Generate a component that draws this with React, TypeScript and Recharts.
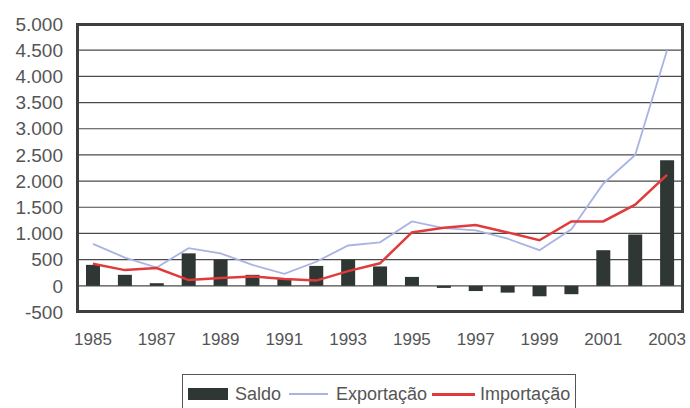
import React from 'react';
import { ComposedChart, Bar, Line, XAxis, YAxis, CartesianGrid } from 'recharts';

const years = ['1985', '1986', '1987', '1988', '1989', '1990', '1991', '1992', '1993', '1994',
  '1995', '1996', '1997', '1998', '1999', '2000', '2001', '2002', '2003'];
const saldo = [400, 210, 50, 620, 500, 210, 130, 380, 500, 370, 170, -40, -100, -130, -200, -160, 680, 980, 2400];
const exportacao = [800, 540, 350, 720, 620, 400, 230, 460, 770, 830, 1230, 1100, 1060, 900, 680, 1080, 1950, 2500, 4500];
const importacao = [420, 300, 340, 110, 150, 180, 130, 100, 280, 430, 1020, 1110, 1160, 1020, 870, 1230, 1230, 1550, 2120];
const yTicks = [-500, 0, 500, 1000, 1500, 2000, 2500, 3000, 3500, 4000, 4500, 5000];

const data = years.map((ano, i) => ({
  ano,
  saldo: saldo[i],
  exportacao: exportacao[i],
  importacao: importacao[i],
}));

const fmt = (v: number) => v.toLocaleString('de-DE');

const textColor = '#555';
const border = 'rgb(60, 62, 64)';
const font = '"Liberation Sans", Arial, sans-serif';

const App: React.FC = () => {
  return (
    <div style={{ position: 'absolute', left: 0, top: 0, width: 690, height: 408, background: '#fff', fontFamily: font }}>
      <ComposedChart width={690} height={408} data={data} margin={{ top: 24, right: 7, bottom: 56, left: 0 }}>
        <CartesianGrid vertical={false} stroke="#4a4a4a" strokeWidth={1.2} />
        <XAxis
          dataKey="ano"
          interval={1}
          tickSize={0}
          tickMargin={21}
          axisLine={false}
          tick={{ fill: textColor, fontSize: 17, fontFamily: font }}
          height={40}
        />
        <YAxis
          domain={[-500, 5000]}
          ticks={yTicks}
          interval={0}
          tickFormatter={fmt}
          width={77}
          tickSize={0}
          tickMargin={14}
          axisLine={false}
          tick={{ fill: textColor, fontSize: 19, fontFamily: font }}
        />
        <Bar dataKey="saldo" name="Saldo" fill="#2e3733" barSize={14} isAnimationActive={false} />
        <Line type="linear" dataKey="exportacao" name="Exportação" stroke="#a9b3e4" strokeWidth={1.8} dot={false} isAnimationActive={false} />
        <Line type="linear" dataKey="importacao" name="Importação" stroke="#e03a3c" strokeWidth={2.5} dot={false} isAnimationActive={false} />
      </ComposedChart>

      {/* moldura da área do gráfico */}
      <div style={{
        position: 'absolute', left: 76, top: 23, width: 608, height: 290, zIndex: 5,
        borderWidth: 3, borderStyle: 'solid', borderColor: border,
        boxSizing: 'border-box', pointerEvents: 'none',
      }} />

      {/* legenda */}
      <div style={{
        position: 'absolute', left: 182, top: 374, width: 394, height: 40,
        border: '1.5px solid #555', boxSizing: 'border-box', display: 'flex', alignItems: 'flex-start',
        paddingTop: 9, paddingLeft: 5, fontSize: 18, color: textColor, whiteSpace: 'nowrap',
      }}>
        <span style={{ display: 'inline-block', width: 40, height: 12, background: '#2e3733', marginTop: 4 }} />
        <span style={{ marginLeft: 7, lineHeight: '20px' }}>Saldo</span>
        <span style={{ display: 'inline-block', width: 39, height: 2, background: '#a9b3e4', marginLeft: 8, marginTop: 9 }} />
        <span style={{ marginLeft: 8, lineHeight: '20px' }}>Exportação</span>
        <span style={{ display: 'inline-block', width: 43, height: 3, background: '#e03a3c', marginLeft: 5, marginTop: 9 }} />
        <span style={{ marginLeft: 5, lineHeight: '20px' }}>Importação</span>
      </div>
    </div>
  );
};

export default App;
